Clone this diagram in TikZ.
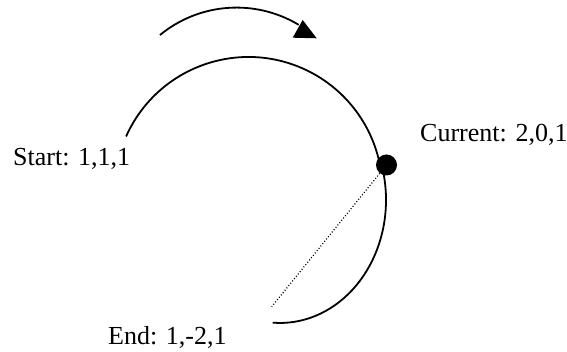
\documentclass[tikz,border=0pt]{standalone}
\usepackage{fontspec}
\setmainfont{Liberation Serif}
\begin{document}
\begin{tikzpicture}[x=1pt,y=1pt,
  arcline/.style={line width=1.8pt},
  lbl/.style={font=\fontsize{26}{30}\selectfont, inner sep=0pt, anchor=base west},
  dotline/.style={line width=1.2pt, dash pattern=on 1pt off 2pt},
  bigdot/.style={circle, fill=black, inner sep=0pt, minimum size=21pt}]
\fill[white] (0,0) rectangle (567,352);
\useasboundingbox (0,0) rectangle (567,352);
% labels
\node[lbl] (startlbl) at (13,186) {Start: 1,1,1};
\node[lbl] (curlbl) at (420,210) {Current: 2,0,1};
\node[lbl] (endlbl) at (108,7) {End: 1,-2,1};
% key points
\coordinate (upstart) at (126.1,215.5);
\coordinate (lowstart) at (383.3,179.7);
\coordinate (dotend) at (271.7,45.3);
\coordinate (arrstart) at (160,317);
\coordinate (headA) at (292.7,314.3);
\coordinate (headB) at (302.7,332);
\coordinate (headtip) at (316.7,313.7);
% upper arc: start -> current
\draw[arcline] (upstart) arc[start angle=156, end angle=10.75, radius=134];
% lower arc: current -> end
\draw[arcline] (lowstart) arc[start angle=13, end angle=-94, x radius=106, y radius=123];
% current position dot
\node[bigdot] (cur) at (386.5,187) {};
% dotted chord
\draw[dotline] (cur) -- (dotend);
% direction arrow
\draw[arcline] (arrstart) arc[start angle=129.4, end angle=59, radius=120.6];
\fill (headA) -- (headB) -- (headtip) -- cycle;
\end{tikzpicture}
\end{document}
